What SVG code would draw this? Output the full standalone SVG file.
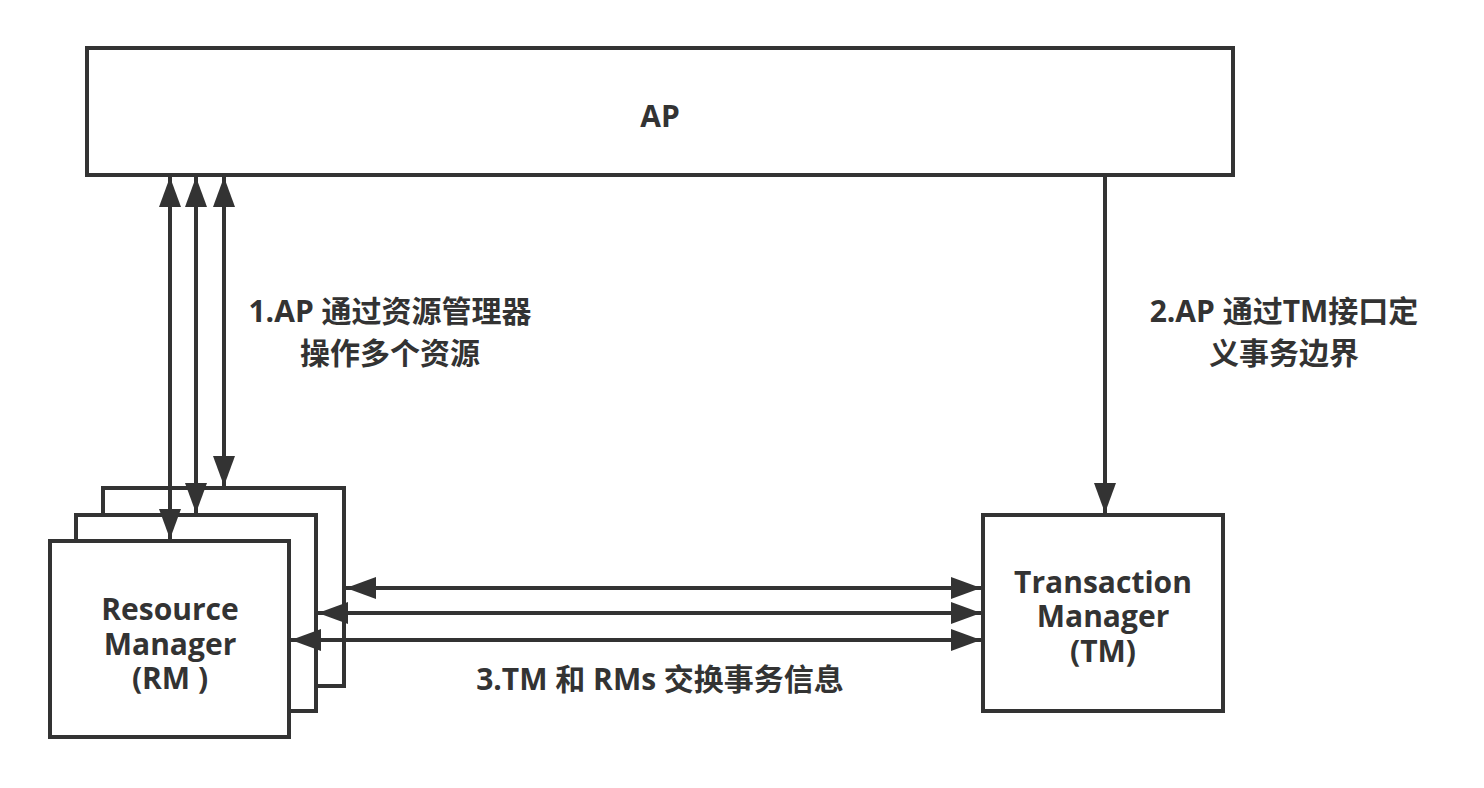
<svg xmlns="http://www.w3.org/2000/svg" width="1484" height="788" viewBox="0 0 1484 788">
<style>
.box{fill:#fff;stroke:#333;stroke-width:4}
.ln{fill:none;stroke:#333;stroke-width:4}
.t{font-family:"Open Sans","Noto Sans CJK SC",sans-serif;font-weight:bold;fill:#333;font-size:30px;text-anchor:middle;dominant-baseline:central}
</style>
<defs>
<marker id="ah" markerUnits="userSpaceOnUse" markerWidth="32" markerHeight="24" refX="30" refY="11" orient="auto-start-reverse" viewBox="0 0 32 22">
<path d="M0,0 L30,11 L0,22 Z" fill="#333"/>
</marker>
</defs>
<rect width="1484" height="788" fill="#fff"/>
<g id="ap">
<rect class="box" x="87" y="48" width="1146" height="127"/>
<text class="t" x="660" y="115">AP</text>
</g>
<g id="rm">
<rect class="box" x="103" y="488" width="241" height="198"/>
<rect class="box" x="76" y="515" width="240" height="196"/>
<rect class="box" x="50" y="541" width="239" height="196"/>
<text class="t" x="170" y="608">Resource</text>
<text class="t" x="170" y="643">Manager</text>
<text class="t" x="170" y="677">(RM )</text>
</g>
<g id="tm">
<rect class="box" x="983" y="515" width="240" height="196"/>
<text class="t" x="1103" y="581">Transaction</text>
<text class="t" x="1103" y="615">Manager</text>
<text class="t" x="1103" y="650">(TM)</text>
</g>
<g id="connectors">
<line class="ln" x1="170" y1="177" x2="170" y2="539" marker-start="url(#ah)" marker-end="url(#ah)"/>
<line class="ln" x1="196" y1="177" x2="196" y2="513" marker-start="url(#ah)" marker-end="url(#ah)"/>
<line class="ln" x1="224" y1="177" x2="224" y2="486" marker-start="url(#ah)" marker-end="url(#ah)"/>
<line class="ln" x1="1105" y1="177" x2="1105" y2="513" marker-end="url(#ah)"/>
<line class="ln" x1="346" y1="588" x2="981" y2="588" marker-start="url(#ah)" marker-end="url(#ah)"/>
<line class="ln" x1="318" y1="613" x2="981" y2="613" marker-start="url(#ah)" marker-end="url(#ah)"/>
<line class="ln" x1="291" y1="640" x2="981" y2="640" marker-start="url(#ah)" marker-end="url(#ah)"/>
</g>
<g id="labels">
<text class="t" x="390" y="310">1.AP 通过资源管理器</text>
<text class="t" x="390" y="352">操作多个资源</text>
<text class="t" x="1284" y="310">2.AP 通过TM接口定</text>
<text class="t" x="1284" y="352">义事务边界</text>
<text class="t" x="660" y="678">3.TM 和 RMs 交换事务信息</text>
</g>
</svg>
